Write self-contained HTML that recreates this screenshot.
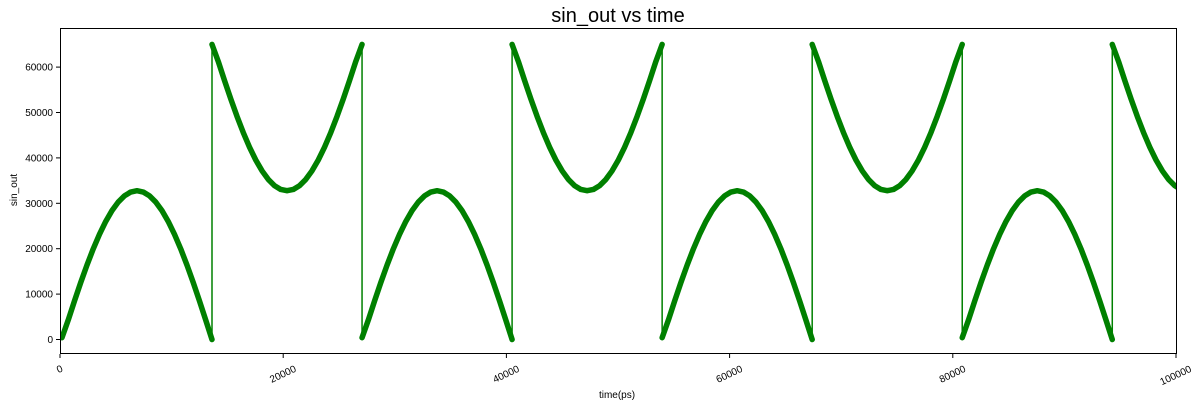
<!DOCTYPE html>
<html><head><meta charset="utf-8"><style>
body{margin:0;background:#fff;}
svg{display:block;font-family:"Liberation Sans","DejaVu Sans",sans-serif;}
</style></head><body>
<svg id="chart" width="1202" height="407">
<text x="618" y="22" font-size="20" text-anchor="middle" fill="#000">sin_out vs time</text>
<text x="617" y="398" font-size="10" text-anchor="middle" fill="#000">time(ps)</text>
<text transform="translate(17,190) rotate(-90)" font-size="10" text-anchor="middle" fill="#000">sin_out</text>
<defs><clipPath id="clip"><rect x="60" y="28" width="1116" height="326"/></clipPath></defs>
<g id="series" clip-path="url(#clip)"></g>
<g id="axes"></g>
<rect x="60.5" y="28.5" width="1116" height="325" fill="none" stroke="#000" stroke-width="1"/>
</svg>
<script>
const xTicks = [0, 20000, 40000, 60000, 80000, 100000];
const yTicks = [0, 10000, 20000, 30000, 40000, 50000, 60000];
const segStarts = [175, 13620, 27065, 40510, 53955, 67400, 80845, 94290];
const segTypes = ['hump','dip','hump','dip','hump','dip','hump','dip'];
const humpValues = [400, 4277, 8481, 12540, 16384, 19950, 23170, 25998, 28378, 30274, 31651, 32487, 32768, 32487, 31651, 30274, 28378, 25998, 23170, 19950, 16384, 12540, 8481, 4277, 0];
const dipValues = [65000, 61258, 57054, 52995, 49151, 45585, 42365, 39537, 37157, 35261, 33884, 33048, 32767, 33048, 33884, 35261, 37157, 39537, 42365, 45585, 49151, 52995, 57054, 61258, 65000];
const halfPeriod = 13445;

const NS = 'http://www.w3.org/2000/svg';
const X0 = 60, X1 = 1176, XMIN = 0, XMAX = 100000;
const Y0 = 339.5, YPER = 4.54 / 1000;
function sx(v){ return X0 + (v - XMIN) / (XMAX - XMIN) * (X1 - X0); }
function sy(v){ return Y0 - v * YPER; }
function mk(tag, attrs){ const e = document.createElementNS(NS, tag); for (const k in attrs) e.setAttribute(k, attrs[k]); return e; }

const axes = document.getElementById('axes');
xTicks.forEach(t => {
  const x = sx(t);
  const l = mk('line', {x1:x, x2:x, y1:354, y2:358, stroke:'#000'});
  
  
  axes.appendChild(l);
  const n = String(t).length;
  const cy = 364 + (6 * n * 0.42 + 9) / 2;
  const tx = mk('text', {x:0, y:0, 'font-size':10, 'text-anchor':'middle', 'dominant-baseline':'central', fill:'#000', transform:'translate(' + x + ',' + cy + ') rotate(-25)'});
  tx.textContent = t;
  
  
  axes.appendChild(tx);
});
yTicks.forEach(t => {
  const y = sy(t);
  const l = mk('line', {x1:56, x2:60, y1:y, y2:y, stroke:'#000'});
  
  
  axes.appendChild(l);
  const tx = mk('text', {x:53, y:y + 3.5, 'font-size':10, 'text-anchor':'end', fill:'#000'});
  tx.textContent = t;
  
  
  axes.appendChild(tx);
});

const series = document.getElementById('series');
let allPts = [];
segStarts.forEach((s, i) => {
  const vals = segTypes[i] === 'hump' ? humpValues : dipValues;
  const n = vals.length - 1;
  const pts = vals.map((v, k) => [sx(s + halfPeriod * k / n), sy(v)]);
  allPts = allPts.concat(pts);
  const p = mk('polyline', {points: pts.map(q => q.join(',')).join(' '), fill:'none', stroke:'#008000', 'stroke-width':5.5, 'stroke-linejoin':'round', 'stroke-linecap':'round'});
  
  
  series.appendChild(p);
});
const thin = mk('polyline', {points: allPts.map(q => q.join(',')).join(' '), fill:'none', stroke:'#008000', 'stroke-width':1.5});


series.appendChild(thin);
</script>
</body></html>
